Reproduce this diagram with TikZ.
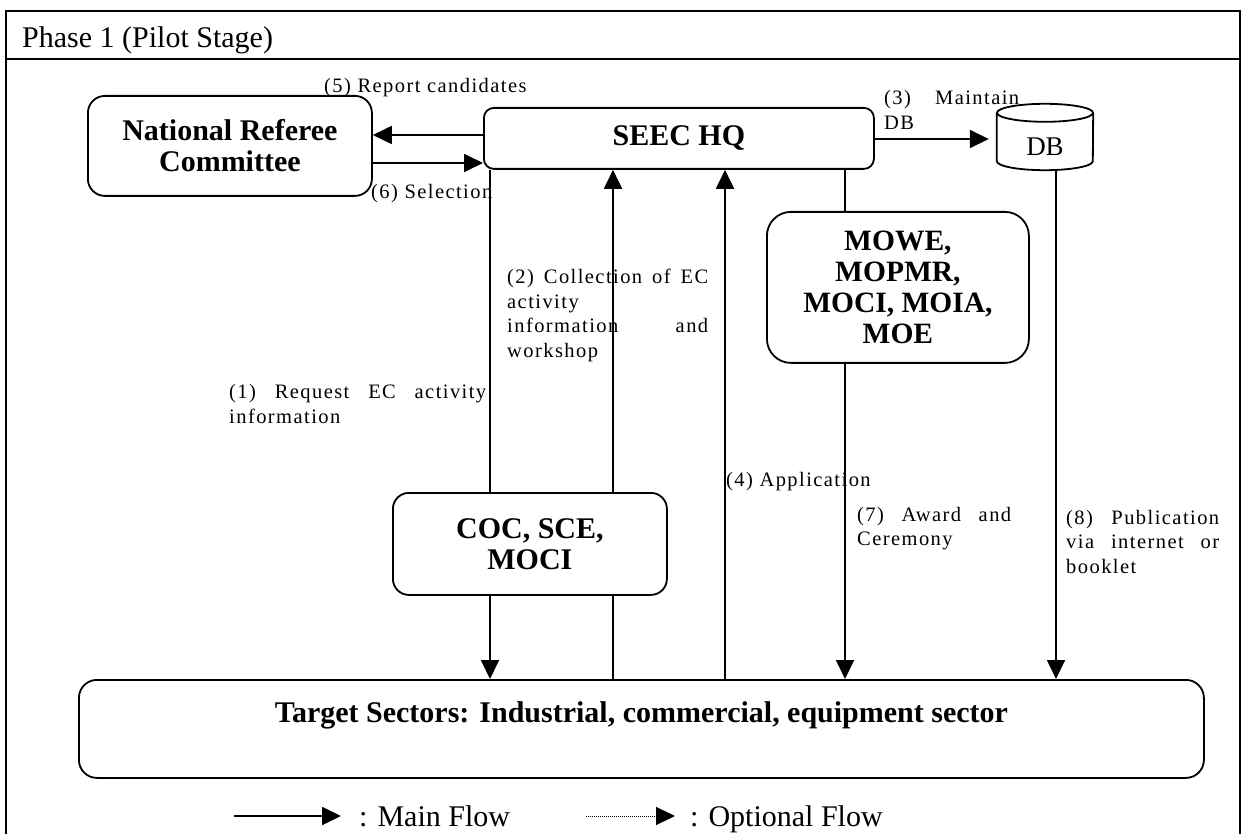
\documentclass[tikz,border=0pt]{standalone}
\usepackage{fontspec}
\setmainfont{Liberation Serif}
\newfontfamily\lblfont[LetterSpace=7]{Liberation Serif}
\usetikzlibrary{arrows.meta}
\begin{document}
\begin{tikzpicture}[x=1pt,y=-1pt,
  frame/.style={line width=2.4pt},
  box/.style={draw, line width=1.8pt, anchor=north west, inner sep=0pt, align=center,
    font=\bfseries\fontsize{30}{31}\selectfont},
  conn/.style={line width=1.8pt},
  arr/.style={conn, -{Triangle[length=19pt,width=18pt]}},
  lbl/.style={inner sep=0pt, anchor=base west, font=\lblfont\fontsize{20.5}{24.5}\selectfont},
  para/.style={lbl, align=justify},
  legtxt/.style={inner sep=0pt, anchor=base west, font=\fontsize{30}{34}\selectfont}
]
\useasboundingbox (0,0) rectangle (1243,834);
% frame
\draw[frame] (6,834) -- (6,11) -- (1240,11) -- (1240,834);
\draw[frame] (6,59) -- (1240,59);
\node[legtxt] (hdr) at (22,48) {Phase 1 (Pilot Stage)};

% boxes
\node[box, rounded corners=17pt, minimum width=284pt, minimum height=100pt] (nrc) at (87,95) {National Referee\\Committee};
\node[box, rounded corners=10pt, minimum width=390pt, minimum height=61pt] (seec) at (483,107) {SEEC HQ};
\node[box, rounded corners=24pt, minimum width=262pt, minimum height=151pt, font=\bfseries\fontsize{29.5}{31}\selectfont] (mowe) at (766,211) {MOWE,\\MOPMR,\\MOCI, MOIA,\\MOE};
\node[box, rounded corners=16pt, minimum width=274pt, minimum height=102pt] (coc) at (392,492) {COC, SCE,\\MOCI};
\node[box, rounded corners=18pt, minimum width=1125pt, minimum height=98pt] (tgt) at (78,679) {\raisebox{6pt}[0pt][0pt]{Target Sectors: Industrial, commercial, equipment sector}};

% database
\node[inner sep=0pt, minimum width=96pt, minimum height=66pt, font=\fontsize{27}{30}\selectfont] (db) at (1045,137) {\raisebox{-19pt}[0pt][0pt]{DB}};
\draw[conn] ([yshift=-9pt]db.north west) -- ([yshift=9pt]db.south west)
  arc[start angle=180, end angle=360, x radius=48pt, y radius=9pt] -- ([yshift=-9pt]db.north east);
\draw[conn] ([yshift=-9pt]db.north) ellipse[x radius=48pt, y radius=9pt];

% connectors
\draw[arr] (seec.west |- 0,135) -- (nrc.east |- 0,135);
\draw[arr] (nrc.east |- 0,163) -- (seec.west |- 0,163);
\draw[arr, shorten >=8pt] (seec.east |- 0,139) -- (db.west |- 0,139);
\draw[conn] (seec.south -| 490,0) -- (coc.north -| 490,0);
\draw[arr] (coc.south -| 490,0) -- (tgt.north -| 490,0);
\draw[arr] (coc.north -| 613,0) -- (seec.south -| 613,0);
\draw[conn] (tgt.north -| 613,0) -- (coc.south -| 613,0);
\draw[arr] (tgt.north -| 725,0) -- (seec.south -| 725,0);
\draw[conn] (seec.south -| 845,0) -- (mowe.north -| 845,0);
\draw[arr] (mowe.south -| 845,0) -- (tgt.north -| 845,0);
\draw[arr] (db.south -| 1056,0) -- (tgt.north -| 1056,0);

% labels
\node[lbl] (t5) at (324,93) {(5) Report candidates};
\node[lbl] (t6) at (371,199) {(6) Selection};
\node[para, text width=135pt] (t3) at (884,105) {\hangindent=24pt\hangafter=1 (3) Maintain\linebreak DB};
\node[para, text width=257pt] (t1) at (229,399) {\hangindent=23pt\hangafter=1 (1) Request EC activity\linebreak information};
\node[para, text width=201pt] (t2) at (507,284) {\hangindent=24pt\hangafter=1 (2) Collection of EC\linebreak activity\\information and\linebreak workshop};
\node[lbl] (t4) at (726,486) {(4) Application};
\node[para, text width=154pt] (t7) at (857,521) {(7) Award and\linebreak Ceremony};
\node[para, text width=153pt] (t8) at (1066,524) {(8) Publication\linebreak via internet or\linebreak booklet};

% legend
\coordinate (l1a) at (234,816);
\coordinate (l1b) at (341,816);
\draw[arr] (l1a) -- (l1b);
\node[legtxt] (l1t) at (359,826) {: Main Flow};
\coordinate (l2a) at (586,816);
\coordinate (l2b) at (675,816);
\draw[line width=1pt, dash pattern=on 1pt off 1pt, -{Triangle[length=19pt,width=18pt]}] (l2a) -- (l2b);
\node[legtxt] (l2t) at (690,826) {: Optional Flow};
\end{tikzpicture}
\end{document}
